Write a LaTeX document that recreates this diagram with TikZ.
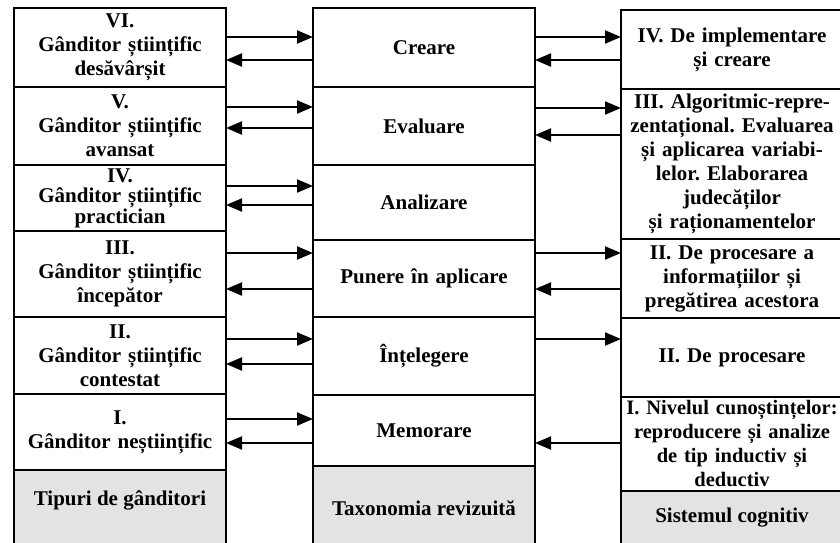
\documentclass[tikz,border=0pt]{standalone}
\usepackage{fontspec}
\setmainfont{Liberation Serif}
\usetikzlibrary{arrows.meta}
\usetikzlibrary{positioning}
\frenchspacing

\begin{document}
\begin{tikzpicture}
      [x=1pt, y=-1pt,
       cell/.style={draw, line width=1.8pt, inner sep=0pt, outer sep=0pt, align=center,
         font=\bfseries\fontsize{21}{24}\selectfont},
       tight/.style={font=\bfseries\fontsize{21}{20.5}\selectfont},
       lcol/.style={cell, minimum width=212pt, text width=212pt},
       mcol/.style={cell, minimum width=222pt, text width=222pt},
       rcol/.style={cell, minimum width=222pt, text width=222pt},
       base/.style={fill=black!11, minimum height=110pt},
       caption/.style={font=\bfseries\fontsize{21}{24}\selectfont, inner sep=0pt},
       arr/.style={-{Triangle[length=16pt,width=13pt]}, line width=2pt}]
      \useasboundingbox (0,0) rectangle (840,542);

      % tipuri de ganditori
      \node (lvi) [lcol, anchor=north, minimum height=79pt] at (120, 8) {VI.\\ Gânditor științific\\ desăvârșit};
      \node (lv) [lcol, below=0pt of lvi, minimum height=78pt] {V.\\ Gânditor științific\\ avansat};
      \node (liv) [lcol, tight, below=0pt of lv, minimum height=66pt] {IV.\\ Gânditor științific\\ practician};
      \node (liii) [lcol, below=0pt of liv, minimum height=86pt] {III.\\ Gânditor științific\\ începător};
      \node (lii) [lcol, below=0pt of liii, minimum height=77pt] {II.\\ Gânditor științific\\ contestat};
      \node (li) [lcol, below=0pt of lii, minimum height=76pt] {I.\\ Gânditor neștiințific};
      \node (lbase) [lcol, base, below=0pt of li] {};

      % taxonomia revizuita
      \node (mcre) [mcol, anchor=north, minimum height=79pt] at (424, 8) {Creare};
      \node (meva) [mcol, below=0pt of mcre, minimum height=78pt] {Evaluare};
      \node (mana) [mcol, below=0pt of meva, minimum height=75pt] {Analizare};
      \node (mpun) [mcol, below=0pt of mana, minimum height=77pt] {Punere în aplicare};
      \node (mint) [mcol, below=0pt of mpun, minimum height=78pt] {Înțelegere};
      \node (mmem) [mcol, below=0pt of mint, minimum height=71pt] {Memorare};
      \node (mbase) [mcol, base, below=0pt of mmem] {};

      % sistemul cognitiv
      \node (riv) [rcol, anchor=north, minimum height=79pt] at (732, 10) {IV. De implementare\\ și creare};
      \node (riii) [rcol, below=0pt of riv, minimum height=150pt] {III. Algoritmic-repre-\\ zentațional. Evaluarea\\ și aplicarea variabi-\\ lelor. Elaborarea\\ judecăților\\ și raționamentelor};
      \node (riia) [rcol, below=0pt of riii, minimum height=79pt] {II. De procesare a\\ informațiilor și\\ pregătirea acestora};
      \node (riib) [rcol, below=0pt of riia, minimum height=79pt] {II. De procesare};
      \node (ri) [rcol, below=0pt of riib, minimum height=94pt,
        font=\bfseries\fontsize{20.5}{24}\selectfont] {I. Nivelul cunoștințelor:\\ reproducere și analize\\ de tip inductiv și\\ deductiv};
      \node (rbase) [rcol, base, below=0pt of ri] {};

      \node (ltitle) [caption] at (lbase.north |- 0, 500) {Tipuri de gânditori};
      \node (mtitle) [caption] at (mbase.north |- 0, 508) {Taxonomia revizuită};
      \node (rtitle) [caption] at (rbase.north |- 0, 518) {Sistemul cognitiv};

      \foreach \a/\b/\ya/\yb in {lvi/mcre/37/60, lv/meva/107/128, liv/mana/186/205,
          liii/mpun/253/289, lii/mint/339/364, li/mmem/419/443}
      {
        \draw [arr] (\a.east |- 0, \ya) -- (\b.west |- 0, \ya);
        \draw [arr] (\b.west |- 0, \yb) -- (\a.east |- 0, \yb);
      }
      \draw [arr] (mcre.east |- 0, 37) -- (riv.west |- 0, 37);
      \draw [arr] (riv.west |- 0, 60) -- (mcre.east |- 0, 60);
      \draw [arr] (meva.east |- 0, 108) -- (riii.west |- 0, 108);
      \draw [arr] (riii.west |- 0, 135) -- (meva.east |- 0, 135);
      \draw [arr] (mpun.east |- 0, 253) -- (riia.west |- 0, 253);
      \draw [arr] (riia.west |- 0, 289) -- (mpun.east |- 0, 289);
      \draw [arr] (mint.east |- 0, 339) -- (riib.west |- 0, 339);
      \draw [arr] (ri.west |- 0, 443) -- (mmem.east |- 0, 443);
    \end{tikzpicture}
\end{document}
